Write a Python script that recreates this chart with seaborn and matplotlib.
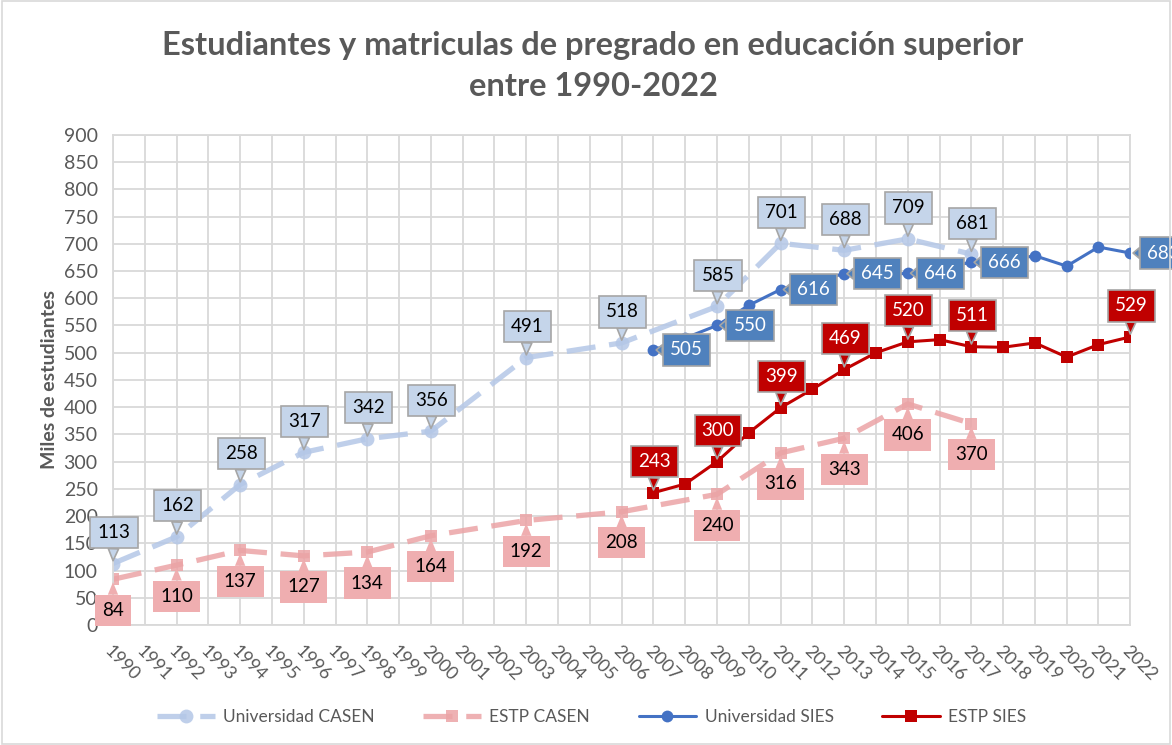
import matplotlib
matplotlib.use("Agg")
import matplotlib.pyplot as plt
import seaborn as sns
from matplotlib.patches import Rectangle

# datos (miles de estudiantes)
years_casen = [1990, 1992, 1994, 1996, 1998, 2000, 2003, 2006, 2009, 2011, 2013, 2015, 2017]
univ_casen = [113, 162, 258, 317, 342, 356, 491, 518, 585, 701, 688, 709, 681]
estp_casen = [84, 110, 137, 127, 134, 164, 192, 208, 240, 316, 343, 406, 370]

years_sies = list(range(2007, 2023))
univ_sies = [505, 527, 550, 587, 616, 630, 645, 641, 646, 655, 666, 668, 678, 659, 694, 683]
estp_sies = [243, 259, 300, 353, 399, 433, 469, 500, 520, 524, 511, 510, 518, 492, 515, 529]

# años con etiqueta en las series SIES
label_years_sies = [2007, 2009, 2011, 2013, 2015, 2017, 2022]

series_names = ["Universidad CASEN", "ESTP CASEN", "Universidad SIES", "ESTP SIES"]

sns.set_theme(style="white")
plt.rcParams["font.family"] = ["Lato", "DejaVu Sans"]

fig = plt.figure(figsize=(11.72, 7.45), dpi=100)
ax = fig.add_axes([0.0964, 0.161, 0.868, 0.658])

GRAY_TXT = "#595959"
C_UC = "#B4C7E7"
C_EC = "#EBA4A6"
C_US = "#4472C4"
C_ES = "#C00000"

sns.lineplot(x=years_casen, y=univ_casen, ax=ax, color=C_UC, marker="o", markersize=10,
             markeredgewidth=0, linewidth=3.8, alpha=0.85, label=series_names[0], zorder=2)
ax.lines[-1].set_dashes((5.5, 2.6))
sns.lineplot(x=years_casen, y=estp_casen, ax=ax, color=C_EC, marker="s", markersize=9,
             markeredgewidth=0, linewidth=3.8, alpha=0.85, label=series_names[1], zorder=2)
ax.lines[-1].set_dashes((5.5, 2.6))
sns.lineplot(x=years_sies, y=univ_sies, ax=ax, color=C_US, marker="o", markersize=8.5,
             markeredgewidth=0, linewidth=2.2, label=series_names[2], zorder=4)
sns.lineplot(x=years_sies, y=estp_sies, ax=ax, color=C_ES, marker="s", markersize=8,
             markeredgewidth=0, linewidth=2.2, label=series_names[3], zorder=4)


def callout(x, y, txt, off, fc, ec, tc, z):
    ax.annotate(txt, xy=(x, y), xytext=off, textcoords="offset pixels",
                ha="center", va="center", fontsize=13.5, color=tc, zorder=z,
                bbox=dict(boxstyle="square,pad=0.38", fc=fc, ec=ec, lw=1.2),
                arrowprops=dict(arrowstyle="wedge,tail_width=0.55,shrink_factor=0.5",
                                fc=fc, ec=ec, lw=1.2, shrinkA=0, shrinkB=2))


for x, v in zip(years_casen, univ_casen):
    callout(x, v, str(v), (1, 31), "#C5D5EA", "#A6A6A6", "black", 3)
for x, v in zip(years_casen, estp_casen):
    callout(x, v, str(v), (0, -31), "#EFAEB0", "none", "black", 3)
for x, v in zip(years_sies, univ_sies):
    if x in label_years_sies:
        callout(x, v, str(v), (33, 0), "#4F81BD", "#A6A6A6", "white", 5)
for x, v in zip(years_sies, estp_sies):
    if x in label_years_sies:
        callout(x, v, str(v), (1, 31), "#C00000", "#A6A6A6", "white", 5)

ax.set_xlim(1990, 2022)
ax.set_ylim(0, 900)
ax.set_xticks(range(1990, 2023))
ax.set_xticklabels([str(y) for y in range(1990, 2023)], rotation=-45, ha="left",
                   rotation_mode="anchor", fontsize=13, color=GRAY_TXT)
ax.set_yticks(range(0, 901, 50))
ax.tick_params(axis="y", labelsize=14, labelcolor=GRAY_TXT, pad=5)
ax.tick_params(axis="x", pad=7)
ax.grid(True, color="#D9D9D9", lw=1.3)
for s in ax.spines.values():
    s.set_color("#D9D9D9")
    s.set_linewidth(1.3)
ax.set_xlabel("")
ax.set_ylabel("Miles de estudiantes", fontsize=14, fontweight="bold", color=GRAY_TXT, labelpad=4)

fig.suptitle("Estudiantes y matriculas de pregrado en educación superior\nentre 1990-2022",
             x=0.506, y=0.958, fontsize=23.5, fontweight="bold", color=GRAY_TXT, linespacing=1.5)

ax.get_legend().remove()
handles, labels = ax.get_legend_handles_labels()
fig.legend(handles[:4], labels[:4], loc="center", bbox_to_anchor=(0.505, 0.038), ncol=4,
           frameon=False, fontsize=12.5, labelcolor=GRAY_TXT, handlelength=3.3,
           columnspacing=2.8, handletextpad=0.5)

fig.add_artist(Rectangle((0.002, 0.002), 0.996, 0.996, transform=fig.transFigure,
                         fill=False, ec="#D9D9D9", lw=1.2))

fig.savefig("out.png", dpi=100)
